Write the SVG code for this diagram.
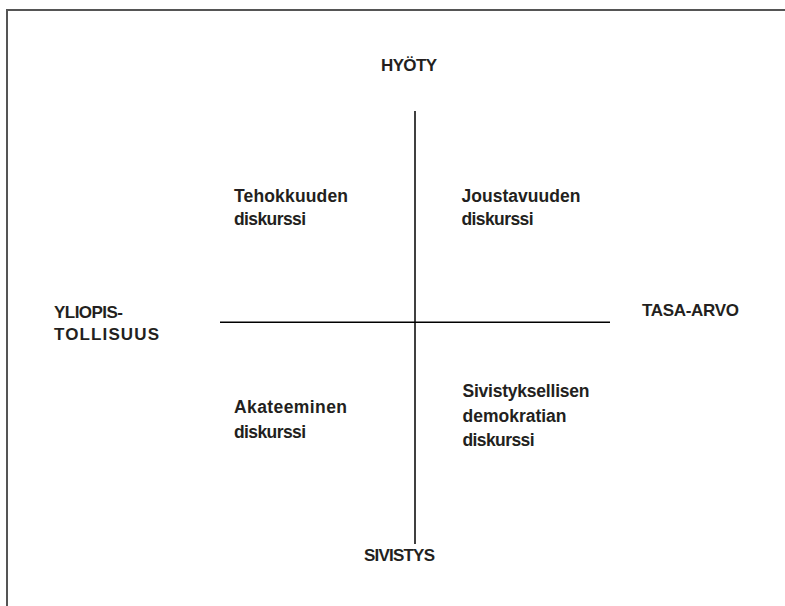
<svg xmlns="http://www.w3.org/2000/svg" width="785" height="606" viewBox="0 0 785 606">
<style>
.t{font-family:"Liberation Sans",Arial,sans-serif;font-weight:bold;font-size:17.5px;fill:#231f20}
.c{font-size:17px}
.ax{stroke:#000;stroke-width:1.5;fill:none}
</style>
<rect x="0" y="0" width="785" height="606" fill="#fff"/>
<rect x="7" y="10" width="800" height="620" fill="none" stroke="#555" stroke-width="2"/>
<g id="connectors">
<line class="ax" x1="415" y1="111" x2="415" y2="544"/>
<line class="ax" x1="220" y1="322.3" x2="610" y2="322.3"/>
</g>
<g id="hyoty"><text class="t c" x="381" y="71" textLength="56">HYÖTY</text></g>
<g id="sivistys"><text class="t c" x="364" y="561" textLength="71">SIVISTYS</text></g>
<g id="yliopistollisuus"><text class="t c" x="54" y="318" textLength="69">YLIOPIS-</text><text class="t c" x="54" y="340" textLength="105">TOLLISUUS</text></g>
<g id="tasa-arvo"><text class="t c" x="642" y="316" textLength="97">TASA-ARVO</text></g>
<g id="tehokkuuden"><text class="t" x="234" y="201.7" textLength="114">Tehokkuuden</text><text class="t" x="234" y="225" textLength="72">diskurssi</text></g>
<g id="joustavuuden"><text class="t" x="461.5" y="201.7" textLength="119">Joustavuuden</text><text class="t" x="461.5" y="225" textLength="72">diskurssi</text></g>
<g id="akateeminen"><text class="t" x="234" y="413.3" textLength="113">Akateeminen</text><text class="t" x="234" y="438.3" textLength="72">diskurssi</text></g>
<g id="sivistyksellisen"><text class="t" x="462.5" y="396.7" textLength="127">Sivistyksellisen</text><text class="t" x="462.5" y="421.7" textLength="104">demokratian</text><text class="t" x="462.5" y="446" textLength="72">diskurssi</text></g>
</svg>
